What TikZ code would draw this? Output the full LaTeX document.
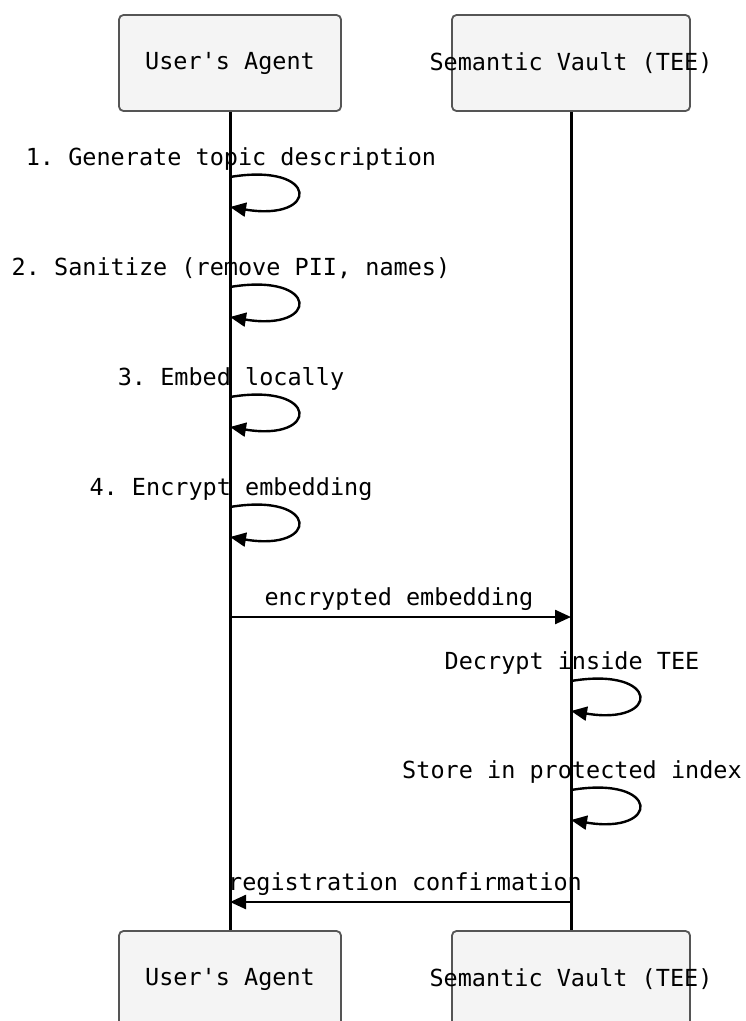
\documentclass[tikz,border=0pt]{standalone}
\usepackage{fontspec}
\setmonofont{DejaVu Sans Mono}
\usetikzlibrary{arrows.meta,calc}
\definecolor{boxfill}{HTML}{F4F4F4}
\definecolor{boxline}{HTML}{555555}
\begin{document}
\begin{tikzpicture}[x=1pt,y=-1pt,
  actor/.style={draw=boxline,fill=boxfill,line width=1.8pt,rounded corners=4.5pt,minimum height=96pt,inner sep=0pt},
  boxtxt/.style={font=\ttfamily\fontsize{23.5}{28}\selectfont,inner sep=0pt},
  lifeline/.style={line width=3pt,black},
  msg/.style={line width=2.4pt,black,-{Triangle[length=16pt,width=14pt]}},
  lbl/.style={font=\ttfamily\fontsize{23.5}{28}\selectfont,inner sep=0pt,anchor=base},
  every node/.append style={text=black}]
\useasboundingbox (0,0) rectangle (746,1021);
\clip (0,0) rectangle (746,1021);
% actors top
\node[actor,minimum width=222pt] (ua) at (230,63) {};
\node[boxtxt] (uat) at (ua) {User's Agent};
\node[actor,minimum width=238pt] (sv) at (571,63) {};
\node[boxtxt] (svt) at (sv) {Semantic Vault (TEE)};
% actors bottom
\node[actor,minimum width=222pt] (ub) at (230,979) {};
\node[boxtxt] (ubt) at (ub) {User's Agent};
\node[actor,minimum width=238pt] (svb) at (571,979) {};
\node[boxtxt] (svbt) at (svb) {Semantic Vault (TEE)};
% lifelines
\draw[lifeline] (ua.south) -- (ub.north);
\draw[lifeline] (sv.south) -- (svb.north);
% self loops
\coordinate (s1a) at (230,177); \coordinate (s1b) at (230,207);
\coordinate (s2a) at (230,287); \coordinate (s2b) at (230,317);
\coordinate (s3a) at (230,397); \coordinate (s3b) at (230,427);
\coordinate (s4a) at (230,507); \coordinate (s4b) at (230,537);
\coordinate (s5a) at (571,681); \coordinate (s5b) at (571,711);
\coordinate (s6a) at (571,790); \coordinate (s6b) at (571,820);
\foreach \a/\b in {s1a/s1b,s2a/s2b,s3a/s3b,s4a/s4b,s5a/s5b,s6a/s6b}{
  \draw[msg] (\a) .. controls ($(\a)+(90,-15)$) and ($(\a)+(90,45)$) .. (\b);
}
\node[lbl] (l1) at (231,165) {1. Generate topic description};
\node[lbl] (l2) at (231,275) {2. Sanitize (remove PII, names)};
\node[lbl] (l3) at (231,385) {3. Embed locally};
\node[lbl] (l4) at (231,495) {4. Encrypt embedding};
\node[lbl] (l5) at (572,669) {Decrypt inside TEE};
\node[lbl] (l6) at (572,778) {Store in protected index};
% messages
\coordinate (m1a) at (230,617); \coordinate (m1b) at (571,617);
\draw[msg] (m1a) -- (m1b);
\node[lbl] (l7) at (399,605) {encrypted embedding};
\coordinate (m2a) at (571,902); \coordinate (m2b) at (230,902);
\draw[msg] (m2a) -- (m2b);
\node[lbl] (l8) at (405,890) {registration confirmation};
\end{tikzpicture}
\end{document}
